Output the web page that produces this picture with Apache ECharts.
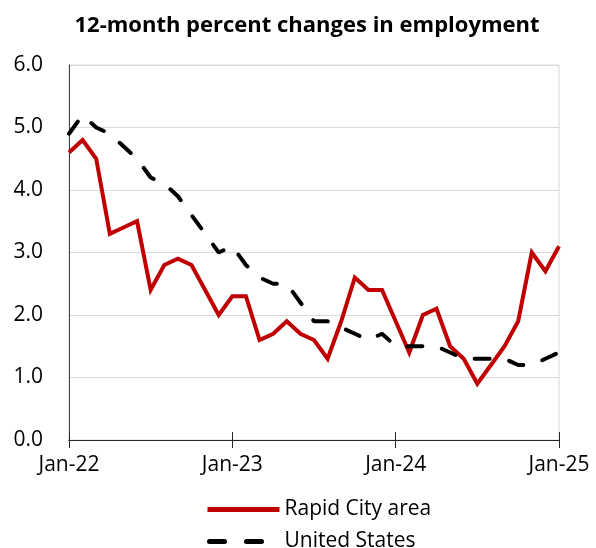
<!DOCTYPE html>
<html>
<head>
<meta charset="utf-8">
<script src="https://cdn.jsdelivr.net/npm/echarts@6/dist/echarts.min.js"></script>
<style>
  html, body { margin: 0; padding: 0; background: #fff; }
  #chart { width: 596px; height: 548px; }
</style>
</head>
<body>
<div id="chart"></div>
<script>
// Monthly periods, Jan 2022 through Jan 2025
const months = [
  'Jan-22','Feb-22','Mar-22','Apr-22','May-22','Jun-22','Jul-22','Aug-22','Sep-22','Oct-22','Nov-22','Dec-22',
  'Jan-23','Feb-23','Mar-23','Apr-23','May-23','Jun-23','Jul-23','Aug-23','Sep-23','Oct-23','Nov-23','Dec-23',
  'Jan-24','Feb-24','Mar-24','Apr-24','May-24','Jun-24','Jul-24','Aug-24','Sep-24','Oct-24','Nov-24','Dec-24',
  'Jan-25'
];

// 12-month percent change in employment, Rapid City area
const rapidCity = [
  4.6, 4.8, 4.5, 3.3, 3.4, 3.5, 2.4, 2.8, 2.9, 2.8, 2.4, 2.0,
  2.3, 2.3, 1.6, 1.7, 1.9, 1.7, 1.6, 1.3, 1.9, 2.6, 2.4, 2.4,
  1.9, 1.4, 2.0, 2.1, 1.5, 1.3, 0.9, 1.2, 1.5, 1.9, 3.0, 2.7,
  3.1
];

// 12-month percent change in employment, United States
const unitedStates = [
  4.9, 5.2, 5.0, 4.9, 4.7, 4.5, 4.2, 4.1, 3.9, 3.6, 3.3, 3.0,
  3.1, 2.8, 2.6, 2.5, 2.5, 2.2, 1.9, 1.9, 1.8, 1.7, 1.6, 1.7,
  1.5, 1.5, 1.5, 1.5, 1.4, 1.3, 1.3, 1.3, 1.3, 1.2, 1.2, 1.3,
  1.4
];

const yTicks = { min: 0, max: 6, interval: 1 };

const FONT = '"Open Sans", Lato, sans-serif';
const RED = '#c00000';
const DASH = [15, 20];

const chart = echarts.init(document.getElementById('chart'), null, { renderer: 'canvas' });

const xBase = {
  type: 'category',
  data: months,
  boundaryGap: false,
  axisLine: { show: true, lineStyle: { color: '#262626', width: 1 } },
  splitLine: { show: false }
};

const legendText = { fontFamily: FONT, fontSize: 21, color: '#000' };

chart.setOption({
  animation: false,
  backgroundColor: '#ffffff',
  title: {
    text: '12-month percent changes in employment',
    left: 302,
    textAlign: 'center',
    top: 10,
    textStyle: { fontFamily: FONT, fontWeight: 'bold', fontSize: 22, color: '#000' }
  },
  grid: {
    left: 69, right: 37, top: 65, bottom: 108,
    show: true, borderColor: '#d9d9d9', borderWidth: 1
  },
  legend: [
    {
      left: 200,
      top: 494,
      itemWidth: 72,
      itemHeight: 4,
      textStyle: legendText,
      itemStyle: { opacity: 0 },
      data: ['Rapid City area'],
      lineStyle: { width: 5, cap: 'butt' }
    },
    {
      left: 202,
      top: 526,
      itemWidth: 70,
      itemHeight: 4,
      textStyle: legendText,
      itemStyle: { opacity: 0 },
      data: ['United States'],
      lineStyle: { width: 5, type: [15, 22], cap: 'round' }
    }
  ],
  xAxis: [
    Object.assign({}, xBase, {
      axisTick: { show: true, interval: 11, length: 8, inside: false, lineStyle: { color: '#262626' } },
      axisLabel: {
        interval: 11, margin: 15,
        fontFamily: FONT, fontSize: 21, color: '#000'
      }
    }),
    Object.assign({}, xBase, {
      position: 'bottom',
      axisTick: { show: true, interval: 11, length: 8, inside: true, lineStyle: { color: '#262626' } },
      axisLabel: { show: false }
    })
  ],
  yAxis: {
    type: 'value',
    min: yTicks.min,
    max: yTicks.max,
    interval: yTicks.interval,
    axisLine: { show: true, lineStyle: { color: '#404040', width: 1 } },
    axisTick: { show: false },
    splitLine: { show: true, lineStyle: { color: '#d9d9d9', width: 1 } },
    axisLabel: {
      margin: 26,
      fontFamily: FONT, fontSize: 21, color: '#000',
      formatter: v => v.toFixed(1)
    }
  },
  series: [
    {
      name: 'Rapid City area',
      type: 'line',
      data: rapidCity,
      xAxisIndex: 0,
      symbol: 'none',
      z: 3,
      itemStyle: { color: RED },
      lineStyle: { color: RED, width: 4, join: 'miter' }
    },
    {
      name: 'United States',
      type: 'line',
      data: unitedStates,
      xAxisIndex: 0,
      symbol: 'none',
      z: 4,
      itemStyle: { color: '#000' },
      lineStyle: { color: '#000', width: 4, type: DASH, cap: 'round' }
    }
  ]
});
</script>
</body>
</html>
